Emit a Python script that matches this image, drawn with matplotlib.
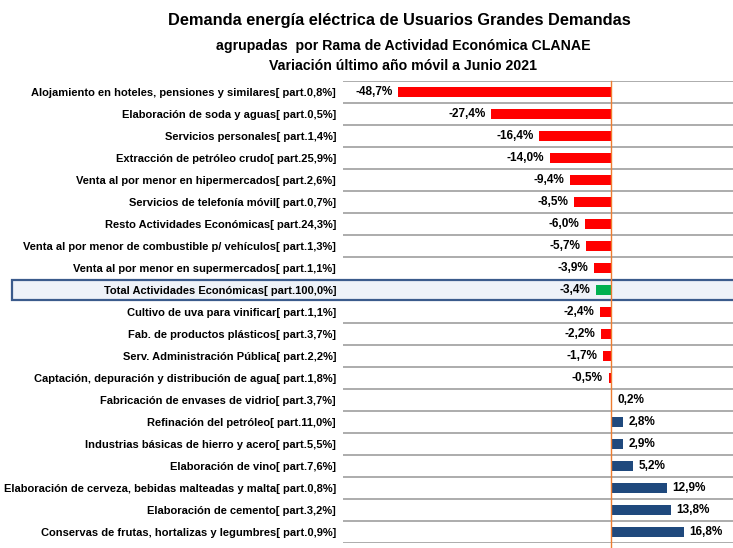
import numpy as np
import matplotlib
matplotlib.use("Agg")
import matplotlib.pyplot as plt
import matplotlib.transforms as mtransforms
from matplotlib.patches import Rectangle

# Datos (de arriba hacia abajo)
categorias = [
    "Alojamiento en hoteles, pensiones y similares[ part.0,8%]",
    "Elaboración de soda y aguas[ part.0,5%]",
    "Servicios personales[ part.1,4%]",
    "Extracción de petróleo crudo[ part.25,9%]",
    "Venta al por menor en hipermercados[ part.2,6%]",
    "Servicios de telefonía móvil[ part.0,7%]",
    "Resto Actividades Económicas[ part.24,3%]",
    "Venta al por menor de combustible p/ vehículos[ part.1,3%]",
    "Venta al por menor en supermercados[ part.1,1%]",
    "Total Actividades Económicas[ part.100,0%]",
    "Cultivo de uva para vinificar[ part.1,1%]",
    "Fab. de productos plásticos[ part.3,7%]",
    "Serv. Administración Pública[ part.2,2%]",
    "Captación, depuración y distribución de agua[ part.1,8%]",
    "Fabricación de envases de vidrio[ part.3,7%]",
    "Refinación del petróleo[ part.11,0%]",
    "Industrias básicas de hierro y acero[ part.5,5%]",
    "Elaboración de vino[ part.7,6%]",
    "Elaboración de cerveza, bebidas malteadas y malta[ part.0,8%]",
    "Elaboración de cemento[ part.3,2%]",
    "Conservas de frutas, hortalizas y legumbres[ part.0,9%]",
]
variacion = [-48.7, -27.4, -16.4, -14.0, -9.4, -8.5, -6.0, -5.7, -3.9, -3.4,
             -2.4, -2.2, -1.7, -0.5, 0.2, 2.8, 2.9, 5.2, 12.9, 13.8, 16.8]
total_label = "Total Actividades Económicas[ part.100,0%]"

titulo = "Demanda energía eléctrica de Usuarios Grandes Demandas"
subtitulo = "agrupadas  por Rama de Actividad Económica CLANAE\nVariación último año móvil a Junio 2021"

plt.rcParams['font.family'] = ['Liberation Sans Narrow', 'Liberation Sans', 'DejaVu Sans']

fig = plt.figure(figsize=(7.33, 5.48), dpi=100)
ax = fig.add_axes([0.468, 0.009, 0.532, 0.843])

n = len(categorias)
y = np.arange(n)

colores = []
for c, v in zip(categorias, variacion):
    if c == total_label:
        colores.append('#00B050')
    elif v < 0:
        colores.append('#FF0000')
    else:
        colores.append('#1F497D')

# caja del total
idx_total = categorias.index(total_label)
trans = mtransforms.blended_transform_factory(fig.transFigure, ax.transData)
caja = Rectangle((12 / 733, idx_total - 0.47), 1.0, 0.94, transform=trans,
                 facecolor='#EEF2F8', edgecolor='#3B5B8C', lw=1.6,
                 clip_on=False, zorder=0)
ax.add_patch(caja)

ax.barh(y, variacion, height=0.45, color=colores, zorder=3)

for yi, v in zip(y, variacion):
    txt = f"{v:.1f}%".replace('.', ',')
    if v < 0:
        ax.annotate(txt, (v, yi), xytext=(-4, 0), textcoords='offset points',
                    ha='right', va='center', fontsize=8.5, fontweight='bold')
    else:
        ax.annotate(txt, (v, yi), xytext=(4, 0), textcoords='offset points',
                    ha='left', va='center', fontsize=8.5, fontweight='bold')

# lineas separadoras
for b in np.arange(-0.5, n, 1.0):
    if abs(b - idx_total) < 0.6:
        continue
    ax.axhline(b, color='#A6A6A6', lw=1.3, zorder=1)

ax.axvline(0, color='#ED7D31', lw=1.0, zorder=4, ymin=-0.02, clip_on=False)

ax.set_xlim(-61.3, 28)
ax.set_ylim(n - 0.5, -0.5)
ax.set_yticks(y)
ax.set_yticklabels(categorias, fontsize=8.0, fontweight='bold')
ax.tick_params(axis='y', length=0, pad=5)
ax.set_xticks([])
for s in ax.spines.values():
    s.set_visible(False)
ax.patch.set_alpha(0)

fig.text(0.545, 0.963, titulo, ha='center', va='center', fontsize=11.8, fontweight='bold')
fig.text(0.55, 0.898, subtitulo, ha='center', va='center', fontsize=10.2,
         fontweight='bold', linespacing=1.5)

fig.savefig("out.png", dpi=100)
